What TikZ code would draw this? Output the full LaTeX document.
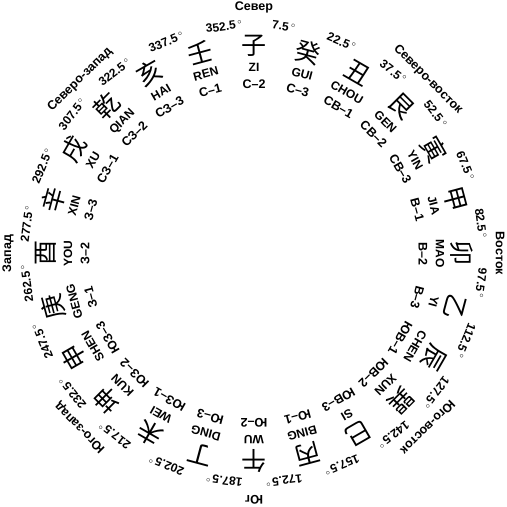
\documentclass[tikz,border=0pt]{standalone}
\usepackage{fontspec}
\setmainfont{Liberation Sans}
\newfontfamily\cjk{Noto Sans CJK SC}
\begin{document}
\begin{tikzpicture}[x=1pt,y=1pt,
  codelbl/.style={font=\bfseries\fontsize{12.5}{14}\selectfont, inner sep=0pt},
  pinlbl/.style={font=\bfseries\fontsize{12}{14}\selectfont, inner sep=0pt},
  deglbl/.style={font=\bfseries\fontsize{12}{14}\selectfont, inner sep=0pt},
  dirlbl/.style={font=\bfseries\fontsize{12.5}{14}\selectfont, inner sep=0pt},
  hanzi/.style={font=\cjk\fontsize{25}{28}\selectfont, inner sep=0pt}]
\useasboundingbox (0,0) rectangle (507,507);
\begin{scope}[shift={(254,253.5)}]
\foreach \h/\p/\c [count=\i from 0] in {子/ZI/С–2, 癸/GUI/С–3, 丑/CHOU/СВ–1, 艮/GEN/СВ–2, 寅/YIN/СВ–3, 甲/JIA/В–1, 卯/MAO/В–2, 乙/YI/В–3, 辰/CHEN/ЮВ–1, 巽/XUN/ЮВ–2, 巳/SI/ЮВ–3, 丙/BING/Ю–1, 午/WU/Ю–2, 丁/DING/Ю–3, 未/WEI/ЮЗ–1, 坤/KUN/ЮЗ–2, 申/SHEN/ЮЗ–3, 庚/GENG/З–1, 酉/YOU/З–2, 辛/XIN/З–3, 戌/XU/СЗ–1, 乾/QIAN/СЗ–2, 亥/HAI/СЗ–3, 壬/REN/С–1} {
  \pgfmathsetmacro\t{15*\i}
  \pgfmathsetmacro\d{15*\i+7.5}
  \node[hanzi, rotate=-\t] (h\i) at (90-\t:208) {\h};
  \node[pinlbl, rotate=-\t] (p\i) at (90-\t:186) {\p};
  \node[codelbl, rotate=-\t] (c\i) at (90-\t:169) {\c};
  \node[deglbl, rotate=-\d] (d\i) at (90-\d:229) {\d\,$^{\circ}$};
}
\foreach \n [count=\i from 0] in {Север, Северо-восток, Восток, Юго-восток, Юг, Юго-запад, Запад, Северо-запад} {
  \pgfmathsetmacro\t{45*\i}
  \node[dirlbl, rotate=-\t] (n\i) at (90-\t:246) {\n};
}
\end{scope}
\end{tikzpicture}
\end{document}
